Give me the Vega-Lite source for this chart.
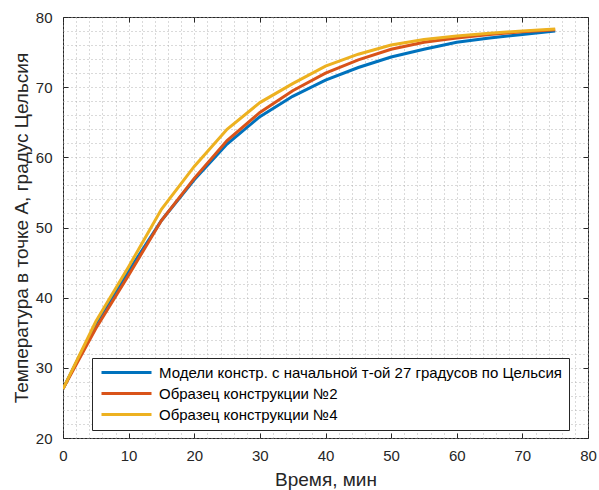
{
  "$schema": "https://vega.github.io/schema/vega-lite/v6.json",
  "width": 525,
  "height": 421,
  "autosize": {"type": "none"},
  "padding": {"left": 63, "top": 17, "right": 11, "bottom": 52},
  "background": "white",
  "config": {
    "view": {"stroke": "#262626", "strokeWidth": 1},
    "font": "Liberation Sans",
    "axis": {"labelFont": "Liberation Sans", "titleFont": "Liberation Sans", "labelColor": "#262626", "titleColor": "#262626", "domain": false, "titleFontWeight": "normal"}
  },
  "data": {
    "values": [
      {"t": 0, "s": "Модели констр. с начальной т-ой 27 градусов по Цельсия", "v": 27.0},
      {"t": 5, "s": "Модели констр. с начальной т-ой 27 градусов по Цельсия", "v": 36.3},
      {"t": 10, "s": "Модели констр. с начальной т-ой 27 градусов по Цельсия", "v": 43.8},
      {"t": 15, "s": "Модели констр. с начальной т-ой 27 градусов по Цельсия", "v": 51.0},
      {"t": 20, "s": "Модели констр. с начальной т-ой 27 градусов по Цельсия", "v": 56.8},
      {"t": 25, "s": "Модели констр. с начальной т-ой 27 градусов по Цельсия", "v": 61.9},
      {"t": 30, "s": "Модели констр. с начальной т-ой 27 градусов по Цельсия", "v": 65.8},
      {"t": 35, "s": "Модели констр. с начальной т-ой 27 градусов по Цельсия", "v": 68.7},
      {"t": 40, "s": "Модели констр. с начальной т-ой 27 градусов по Цельсия", "v": 71.0},
      {"t": 45, "s": "Модели констр. с начальной т-ой 27 градусов по Цельсия", "v": 72.8},
      {"t": 50, "s": "Модели констр. с начальной т-ой 27 градусов по Цельсия", "v": 74.3},
      {"t": 55, "s": "Модели констр. с начальной т-ой 27 градусов по Цельсия", "v": 75.4},
      {"t": 60, "s": "Модели констр. с начальной т-ой 27 градусов по Цельсия", "v": 76.4},
      {"t": 65, "s": "Модели констр. с начальной т-ой 27 градусов по Цельсия", "v": 77.0},
      {"t": 70, "s": "Модели констр. с начальной т-ой 27 градусов по Цельсия", "v": 77.5},
      {"t": 75, "s": "Модели констр. с начальной т-ой 27 градусов по Цельсия", "v": 78.0},
      {"t": 0, "s": "Образец конструкции №2", "v": 27.0},
      {"t": 5, "s": "Образец конструкции №2", "v": 35.6},
      {"t": 10, "s": "Образец конструкции №2", "v": 43.2},
      {"t": 15, "s": "Образец конструкции №2", "v": 51.0},
      {"t": 20, "s": "Образец конструкции №2", "v": 57.0},
      {"t": 25, "s": "Образец конструкции №2", "v": 62.4},
      {"t": 30, "s": "Образец конструкции №2", "v": 66.4},
      {"t": 35, "s": "Образец конструкции №2", "v": 69.5},
      {"t": 40, "s": "Образец конструкции №2", "v": 72.0},
      {"t": 45, "s": "Образец конструкции №2", "v": 73.9},
      {"t": 50, "s": "Образец конструкции №2", "v": 75.4},
      {"t": 55, "s": "Образец конструкции №2", "v": 76.4},
      {"t": 60, "s": "Образец конструкции №2", "v": 77.0},
      {"t": 65, "s": "Образец конструкции №2", "v": 77.5},
      {"t": 70, "s": "Образец конструкции №2", "v": 77.9},
      {"t": 75, "s": "Образец конструкции №2", "v": 78.2},
      {"t": 0, "s": "Образец конструкции №4", "v": 27.0},
      {"t": 5, "s": "Образец конструкции №4", "v": 36.6},
      {"t": 10, "s": "Образец конструкции №4", "v": 44.4},
      {"t": 15, "s": "Образец конструкции №4", "v": 52.6},
      {"t": 20, "s": "Образец конструкции №4", "v": 58.7},
      {"t": 25, "s": "Образец конструкции №4", "v": 64.0},
      {"t": 30, "s": "Образец конструкции №4", "v": 67.8},
      {"t": 35, "s": "Образец конструкции №4", "v": 70.5},
      {"t": 40, "s": "Образец конструкции №4", "v": 73.0},
      {"t": 45, "s": "Образец конструкции №4", "v": 74.7},
      {"t": 50, "s": "Образец конструкции №4", "v": 76.0},
      {"t": 55, "s": "Образец конструкции №4", "v": 76.8},
      {"t": 60, "s": "Образец конструкции №4", "v": 77.3},
      {"t": 65, "s": "Образец конструкции №4", "v": 77.7},
      {"t": 70, "s": "Образец конструкции №4", "v": 78.0},
      {"t": 75, "s": "Образец конструкции №4", "v": 78.3}
    ]
  },
  "resolve": {"axis": {"x": "independent", "y": "independent"}},
  "layer": [
    {
      "mark": {"type": "line", "strokeWidth": 3, "clip": true},
      "encoding": {
        "x": {
          "field": "t", "type": "quantitative",
          "scale": {"domain": [0, 80], "nice": false},
          "axis": {
            "orient": "bottom",
            "title": "Время, мин",
            "values": [0,2,4,6,8,10,12,14,16,18,20,22,24,26,28,30,32,34,36,38,40,42,44,46,48,50,52,54,56,58,60,62,64,66,68,70,72,74,76,78,80],
            "labelExpr": "datum.value % 10 === 0 ? datum.label : ''",
            "labelOverlap": false,
            "labelFlush": false,
            "labelBound": false,
            "labelFontSize": 15,
            "labelPadding": 15,
            "titleFontSize": 19,
            "titlePadding": 7,
            "tickSize": -5,
            "tickColor": "#262626",
            "tickOpacity": {"condition": {"test": "datum.value % 10 === 0", "value": 1}, "value": 0},
            "grid": true,
            "gridColor": "#a8a8a8",
            "gridDash": [1, 3],
            "gridOpacity": 0.85
          }
        },
        "y": {
          "field": "v", "type": "quantitative",
          "scale": {"domain": [20, 80], "nice": false, "zero": false},
          "axis": {
            "orient": "left",
            "title": "Температура в точке А, градус Цельсия",
            "values": [20,22,24,26,28,30,32,34,36,38,40,42,44,46,48,50,52,54,56,58,60,62,64,66,68,70,72,74,76,78,80],
            "labelExpr": "datum.value % 10 === 0 ? datum.label : ''",
            "labelOverlap": false,
            "labelFlush": false,
            "labelBound": false,
            "labelFontSize": 15,
            "labelPadding": 16,
            "titleFontSize": 19,
            "titlePadding": 4,
            "tickSize": -5,
            "tickColor": "#262626",
            "tickOpacity": {"condition": {"test": "datum.value % 10 === 0", "value": 1}, "value": 0},
            "grid": true,
            "gridColor": "#a8a8a8",
            "gridDash": [1, 3],
            "gridOpacity": 0.85
          }
        },
        "color": {
          "field": "s", "type": "nominal",
          "scale": {
            "domain": ["Модели констр. с начальной т-ой 27 градусов по Цельсия", "Образец конструкции №2", "Образец конструкции №4"],
            "range": ["#0072BD", "#D95319", "#EDB120"]
          },
          "legend": {
            "orient": "none",
            "legendX": 29,
            "legendY": 341,
            "title": null,
            "fillColor": "white",
            "strokeColor": "#262626",
            "padding": 7,
            "symbolType": "M-1,0H9",
            "symbolSize": 100,
            "symbolStrokeWidth": 3,
            "labelFontSize": 15,
            "labelColor": "#000000",
            "labelOffset": 45,
            "labelLimit": 600,
            "rowPadding": 5
          }
        }
      }
    },
    {
      "mark": {"type": "line", "opacity": 0},
      "encoding": {
        "x": {
          "field": "t", "type": "quantitative",
          "axis": {"orient": "top", "title": null, "labels": false, "grid": false, "values": [0,10,20,30,40,50,60,70,80], "tickSize": -5, "tickColor": "#262626"}
        },
        "y": {
          "field": "v", "type": "quantitative",
          "axis": {"orient": "right", "title": null, "labels": false, "grid": false, "values": [20,30,40,50,60,70,80], "tickSize": -5, "tickColor": "#262626"}
        },
        "detail": {"field": "s"}
      }
    }
  ]
}
